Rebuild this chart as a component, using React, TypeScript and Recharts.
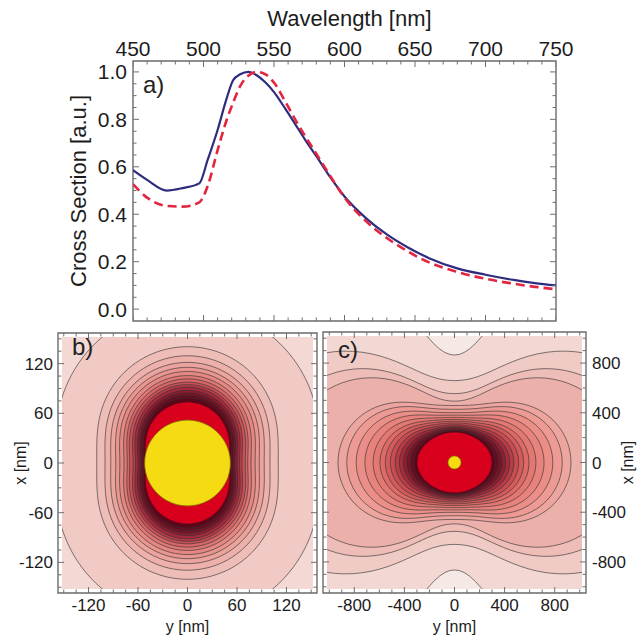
import React from 'react';
import {
  ComposedChart, Line, XAxis, YAxis, ScatterChart, Scatter, ReferenceArea,
  RadarChart, Radar, PolarAngleAxis, PolarRadiusAxis,
} from 'recharts';

// ---- panel a: normalised cross section vs wavelength ----
const wavelengths = [450, 460, 474, 485, 497, 503, 510, 516, 521, 526, 532, 538, 544, 550, 558, 565, 572, 580, 590, 600, 615, 630, 645, 660, 680, 700, 720, 735, 750];
const solidSection = [0.586, 0.545, 0.5, 0.51, 0.53, 0.63, 0.755, 0.88, 0.965, 0.99, 1.0, 0.985, 0.955, 0.915, 0.845, 0.78, 0.715, 0.645, 0.555, 0.475, 0.385, 0.315, 0.26, 0.215, 0.172, 0.145, 0.123, 0.11, 0.1];
const dashedSection = [0.527, 0.47, 0.435, 0.432, 0.45, 0.52, 0.67, 0.79, 0.87, 0.94, 0.985, 1.0, 0.99, 0.955, 0.875, 0.8, 0.73, 0.655, 0.56, 0.47, 0.372, 0.3, 0.243, 0.197, 0.157, 0.128, 0.107, 0.094, 0.084];
const wavelengthTicks = [450, 500, 550, 600, 650, 700, 750];
const sectionTicks = [0, 0.2, 0.4, 0.6, 0.8, 1.0];

// ---- panel b: near field, contour extent along x (dipole axis) and along y, nm ----
const nearAlongX = [190, 141, 130, 122, 116, 111, 106, 102, 98, 95, 92, 88, 85, 82, 79];
const nearAlongY = [162, 110, 100, 93, 87, 82, 77, 73, 70, 66, 63, 60, 57.5, 55.5, 53];
const nearSaturated = [73.5, 50]; // along x, along y
const nearTicks = [-120, -60, 0, 60, 120];

// ---- panel c: far field, contour extent along x and along y, nm ----
const farAlongX = [858, 654, 550, 490, 455, 425, 398, 378, 360, 344, 330, 316, 302, 290, 280, 270, 262, 255];
const farAlongY = [4000, 1768, 1490, 1346, 930, 860, 785, 715, 650, 595, 552, 512, 474, 440, 408, 380, 352, 326];
const farSaturated = [240, 296];
const farTicks = [-800, -400, 0, 400, 800];

const particleRadius = 52;

// ---- styles ----
const FONT = '"Liberation Sans", Arial, Helvetica, sans-serif';
const TEXT = '#1c1c1c';
const FRAME_COLOR = '#6b6b6b';
const TICK_COLOR = '#6f6f6f';
const nearBackground = '#f3d8d4';
const nearFills = ['#f1cac5', '#efbdb7', '#edb0aa', '#eba39d', '#e99690', '#e58883', '#df7875', '#d66667', '#c95258', '#b83e4a', '#a32a3c', '#8e1c30', '#7a1226', '#690b1f', '#5c0719'];
const farBackground = '#f6e8e5';
const farFills = ['#f2d7d3', '#f0cac5', '#eebdb7', '#ecb0aa', '#eda59f', '#ec9a93', '#ea8e87', '#e7837c', '#e37771', '#dd6a66', '#d45b5b', '#c84c51', '#b83c46', '#a42c3b', '#8e1e31', '#781428', '#660c20', '#5a0819'];
const HOT = '#d9001e';
const GOLD = '#f4db12';

const range = (a: number, b: number, step: number) => {
  const out: number[] = [];
  for (let v = a; v <= b + 1e-9; v += step) out.push(Math.round(v * 1000) / 1000);
  return out;
};

const spectrumRows = wavelengths.map((wl, i) => ({ wl, solid: solidSection[i], dashed: dashedSection[i] }));

// dipole-like level set: near term fixed by the extent along x, far term by the extent along y
const levelRadius = (alongX: number, alongY: number, sinSq: number) => {
  const a = Math.pow(alongX, 6) / 4;
  const b = alongY * alongY * (1 - a / Math.pow(alongY, 6));
  const f = (r: number) => (a * (1 + 3 * sinSq)) / Math.pow(r, 6) + (b * (1 - sinSq)) / (r * r);
  let lo = Math.min(alongX, alongY) * 0.3;
  let hi = Math.max(alongX, alongY) * 3;
  for (let k = 0; k < 60; k++) {
    const mid = (lo + hi) / 2;
    if (f(mid) > 1) lo = mid; else hi = mid;
  }
  return (lo + hi) / 2;
};

const SPOKES = 144;
const buildRows = (alongX: number[], alongY: number[], hot: number[]) =>
  Array.from({ length: SPOKES }, (_, i) => {
    const t = (i * 2 * Math.PI) / SPOKES; // clockwise from +x (up)
    const sinSq = Math.cos(t) ** 2;
    const row: Record<string, number> = { spoke: i };
    alongX.forEach((ax, j) => { row[`c${j}`] = levelRadius(ax, alongY[j], sinSq); });
    row.hot = levelRadius(hot[0], hot[1], sinSq);
    row.particle = particleRadius;
    return row;
  });

const nearRows = buildRows(nearAlongX, nearAlongY, nearSaturated);
const farRows = buildRows(farAlongX, farAlongY, farSaturated);

type Side = 'top' | 'bottom' | 'left' | 'right';
const isIn = (list: number[], v: number) => list.some((m) => Math.abs(m - v) < 1e-6);

// tick labels only (tick marks are drawn as scatter marks on the frame)
const tickLabel = (side: Side, labelled: number[], fontSize: number, fmt = (v: number) => String(v)) =>
  (props: any) => {
    const x = Number(props.x);
    const y = Number(props.y);
    const v = Number(props.payload.value);
    if (!isIn(labelled, v)) return <g />;
    const anchor = side === 'left' ? 'end' : side === 'right' ? 'start' : 'middle';
    const dy = side === 'top' ? 0 : side === 'bottom' ? '0.72em' : '0.36em';
    return (
      <text x={x} y={y} dy={dy} textAnchor={anchor} fill={TEXT} stroke="none" fontSize={fontSize} fontFamily={FONT}>
        {fmt(v)}
      </text>
    );
  };

// frame tick marks, pointing into the plot
const INWARD: Record<Side, [number, number]> = { top: [0, 1], bottom: [0, -1], left: [1, 0], right: [-1, 0] };
const TickMark = (p: any) => {
  const { cx, cy, payload } = p;
  if (cx == null || cy == null) return <g />;
  const len = payload.major ? 6 : 3.5;
  const [dx, dy] = INWARD[payload.side as Side];
  return <path d={`M${cx},${cy}L${cx + dx * len},${cy + dy * len}`} stroke={TICK_COLOR} strokeWidth={1} fill="none" />;
};

// marks along the four frame edges: h = horizontal coordinate, v = vertical coordinate
const frameMarks = (hMarks: number[], hMajor: number[], hDom: [number, number],
  vMarks: number[], vMajor: number[], vDom: [number, number]) => [
  ...hMarks.map((h) => ({ h, v: vDom[1], side: 'top', major: isIn(hMajor, h) })),
  ...hMarks.map((h) => ({ h, v: vDom[0], side: 'bottom', major: isIn(hMajor, h) })),
  ...vMarks.map((v) => ({ h: hDom[0], v, side: 'left', major: isIn(vMajor, v) })),
  ...vMarks.map((v) => ({ h: hDom[1], v, side: 'right', major: isIn(vMajor, v) })),
];

const wlMarks = range(450, 750, 10);
const sectionMarks = range(0, 1, 0.05);
const nearMarks = range(-150, 150, 15);
const farMarks = range(-1000, 1000, 100);

const WL_DOM: [number, number] = [450, 750];
const SEC_DOM: [number, number] = [-0.05, 1.046];
const NEAR_DOM: [number, number] = [-157, 157];
const FAR_DOM: [number, number] = [-1050, 1050];

const spectrumMarks = frameMarks(wlMarks, wavelengthTicks, WL_DOM, sectionMarks, sectionTicks, SEC_DOM)
  .map((m) => ({ wl: m.h, edge: m.v, side: m.side, major: m.major }));
const nearFrame = frameMarks(nearMarks, nearTicks, NEAR_DOM, nearMarks, nearTicks, NEAR_DOM)
  .map((m) => ({ y: m.h, x: m.v, side: m.side, major: m.major }));
const farFrame = frameMarks(farMarks, farTicks, FAR_DOM, farMarks, farTicks, FAR_DOM)
  .map((m) => ({ y: m.h, x: m.v, side: m.side, major: m.major }));

const labelStyle = (size: number) => ({ fontSize: size, fontFamily: FONT, fill: TEXT, textAnchor: 'middle' as const });

const letter = (txt: string, left: number, top: number) => (
  <div style={{ position: 'absolute', left, top, fontSize: 24, lineHeight: '24px', fontFamily: FONT, color: '#222' }}>{txt}</div>
);

const axisCommon = { tickSize: 0, tickLine: false, axisLine: false, interval: 0 as const, allowDataOverflow: true };

const FieldMap = ({ rows, count, fills, background, left, top, width, height, radiusNm, pxPerNm }: any) => (
  <div style={{ position: 'absolute', left, top, width, height, overflow: 'hidden', background }}>
    <RadarChart width={width} height={height} data={rows} cx="50%" cy="50%" outerRadius={radiusNm * pxPerNm}
      margin={{ top: 0, right: 0, bottom: 0, left: 0 }}>
      <PolarAngleAxis dataKey="spoke" tick={false} tickLine={false} axisLine={false} />
      <PolarRadiusAxis domain={[0, radiusNm]} allowDataOverflow tick={false} axisLine={false} />
      {Array.from({ length: count }, (_, j) => (
        <Radar key={j} dataKey={`c${j}`} fill={fills[j]} fillOpacity={1} stroke="#333333" strokeOpacity={0.7}
          strokeWidth={0.9} dot={false} isAnimationActive={false} />
      ))}
      <Radar dataKey="hot" fill={HOT} fillOpacity={1} stroke="none" dot={false} isAnimationActive={false} />
      <Radar dataKey="particle" fill={GOLD} fillOpacity={1} stroke="#7d6b00" strokeWidth={0.8} dot={false} isAnimationActive={false} />
    </RadarChart>
  </div>
);

const MapAxes = ({ dom, marks, majors, frame, left, width, margin, yOnRight }: any) => (
  <div style={{ position: 'absolute', left, top: 320 }}>
    <ScatterChart width={width} height={315} margin={margin}>
      <XAxis xAxisId="b" orientation="bottom" type="number" dataKey="y" domain={dom} {...axisCommon}
        ticks={marks} height={42} tickMargin={6} tick={tickLabel('bottom', majors, 17)}
        label={{ value: 'y [nm]', position: 'insideBottom', offset: 3, style: labelStyle(16) }} />
      {yOnRight ? (
        <YAxis yAxisId="l" orientation="right" type="number" dataKey="x" domain={dom} {...axisCommon}
          ticks={marks} width={51} tickMargin={6} tick={tickLabel('right', majors, 17)}
          label={{ value: 'x [nm]', angle: -90, position: 'insideRight', offset: 10, style: labelStyle(16) }} />
      ) : (
        <YAxis yAxisId="l" type="number" dataKey="x" domain={dom} {...axisCommon}
          ticks={marks} width={58} tickMargin={5} tick={tickLabel('left', majors, 17)}
          label={{ value: 'x [nm]', angle: -90, position: 'insideLeft', offset: 20, style: labelStyle(16) }} />
      )}
      <ReferenceArea xAxisId="b" yAxisId="l" x1={dom[0]} x2={dom[1]} y1={dom[0]} y2={dom[1]} fill="none"
        stroke={FRAME_COLOR} strokeWidth={1.4} ifOverflow="visible" />
      <Scatter xAxisId="b" yAxisId="l" data={frame} shape={TickMark} isAnimationActive={false} />
    </ScatterChart>
  </div>
);

export default function App() {
  return (
    <div style={{ position: 'absolute', left: 0, top: 0, width: 637, height: 635, background: '#fff', overflow: 'hidden' }}>
      {/* panel a */}
      <div style={{ position: 'absolute', left: 0, top: 0 }}>
        <ComposedChart width={637} height={335} data={spectrumRows} margin={{ top: 0, right: 81, bottom: 14, left: 0 }}>
          <XAxis xAxisId="top" orientation="top" dataKey="wl" type="number" domain={WL_DOM} {...axisCommon}
            ticks={wlMarks} height={61} tickMargin={5.5} tick={tickLabel('top', wavelengthTicks, 21)}
            label={{ value: 'Wavelength [nm]', position: 'insideTop', offset: 10, dx: 5, style: labelStyle(22) }} />
          <YAxis yAxisId="left" type="number" domain={SEC_DOM} {...axisCommon} ticks={sectionMarks}
            width={133} tickMargin={6} tick={tickLabel('left', sectionTicks, 21, (v) => v.toFixed(1))}
            label={{ value: 'Cross Section [a.u.]', angle: -90, position: 'insideLeft', offset: 78, style: labelStyle(22) }} />
          <ReferenceArea xAxisId="top" yAxisId="left" x1={WL_DOM[0]} x2={WL_DOM[1]} y1={SEC_DOM[0]} y2={SEC_DOM[1]}
            fill="none" stroke={FRAME_COLOR} strokeWidth={1.4} ifOverflow="visible" />
          <Scatter xAxisId="top" yAxisId="left" data={spectrumMarks} dataKey="edge" shape={TickMark}
            isAnimationActive={false} />
          <Line xAxisId="top" yAxisId="left" type="monotone" dataKey="solid" stroke="#2e2c7e" strokeWidth={2.2}
            dot={false} isAnimationActive={false} />
          <Line xAxisId="top" yAxisId="left" type="monotone" dataKey="dashed" stroke="#e3263f" strokeWidth={2.6}
            strokeDasharray="9 5" dot={false} isAnimationActive={false} />
        </ComposedChart>
      </div>
      {letter('a)', 143, 73)}

      {/* panel b */}
      <FieldMap rows={nearRows} count={nearAlongX.length} fills={nearFills} background={nearBackground}
        left={62} top={337} width={251} height={252} radiusNm={300} pxPerNm={259 / 314} />
      <MapAxes dom={NEAR_DOM} marks={nearMarks} majors={nearTicks} frame={nearFrame} left={0} width={320}
        margin={{ top: 13, right: 3, bottom: 0, left: 0 }} yOnRight={false} />
      {letter('b)', 72, 335)}

      {/* panel c */}
      <FieldMap rows={farRows} count={farAlongX.length} fills={farFills} background={farBackground}
        left={327} top={336} width={255} height={253} radiusNm={2000} pxPerNm={263 / 2100} />
      <MapAxes dom={FAR_DOM} marks={farMarks} majors={farTicks} frame={farFrame} left={320} width={317}
        margin={{ top: 12, right: 0, bottom: 0, left: 3 }} yOnRight />
      {letter('c)', 338, 338)}
    </div>
  );
}
